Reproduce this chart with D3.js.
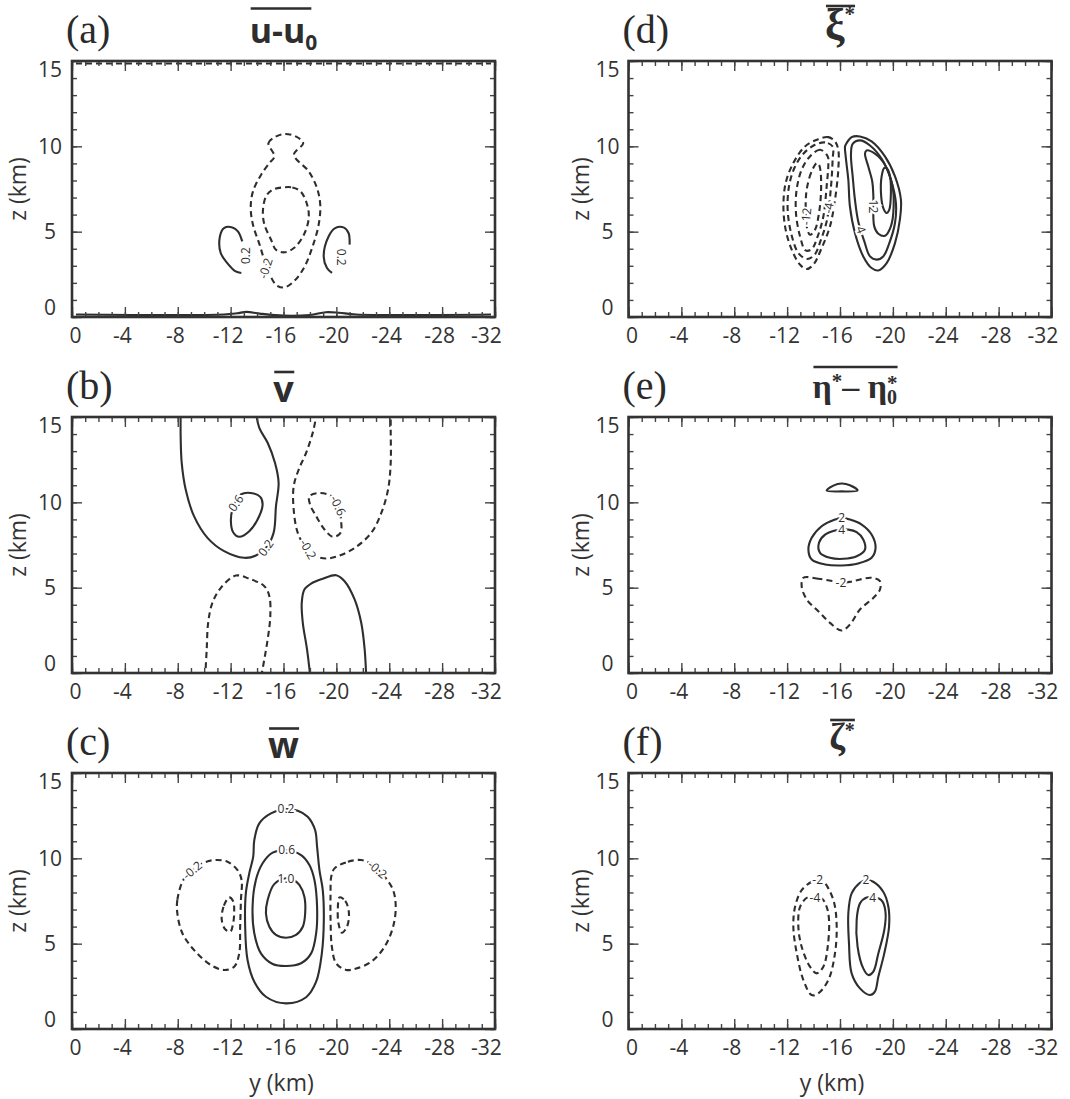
<!DOCTYPE html>
<html>
<head>
<meta charset="utf-8">
<script src="https://cdn.jsdelivr.net/npm/d3@7"></script>
<style>
  body { margin: 0; background: #fff; }
  svg { display: block; }
</style>
</head>
<body>
<div id="chart"></div>
<script>
// axis ticks
const yTicks = [0, -4, -8, -12, -16, -20, -24, -28, -32];
const zTicks = [0, 5, 10, 15];
const yMinor = d3.range(0, -33, -1);
const zMinor = d3.range(0, 16, 1);

// (a) u - u0   [y km, z km]
const a_top = [[-0.3, 14.85], [-31.7, 14.85]];
const a_bot = [[-0.3, 0.15], [-11.5, 0.15], [-12.5, 0.22], [-13.2, 0.3], [-14.2, 0.2], [-16, 0.08], [-18, 0.12], [-19.2, 0.28], [-20.2, 0.25], [-21.5, 0.15], [-31.7, 0.15]];
const a_neg02 = [[-15.31, 9.41], [-14.86, 10.19], [-15.31, 10.52], [-16.05, 10.72], [-16.92, 10.58], [-17.49, 10.19], [-16.79, 9.51], [-17.91, 8.53], [-18.53, 7.56], [-18.78, 6.58], [-18.66, 5.41], [-18.16, 4.04], [-17.54, 2.87], [-16.79, 2.09], [-16.05, 1.73], [-15.43, 1.89], [-14.68, 3.06], [-14.19, 4.24], [-13.69, 5.41], [-13.52, 6.39], [-13.69, 7.36], [-14.31, 8.34], [-14.93, 9.02]];
const a_neg04 = [[-15.93, 7.59], [-16.67, 7.59], [-17.29, 7.36], [-17.79, 6.58], [-17.91, 5.80], [-17.54, 4.82], [-16.79, 4.04], [-16.05, 3.79], [-15.43, 3.94], [-15.06, 4.53], [-14.56, 5.41], [-14.44, 6.19], [-14.68, 7.07], [-15.18, 7.46]];
const a_posL = [[-12.88, 4.43], [-12.55, 5.02], [-12.13, 5.25], [-11.50, 5.21], [-11.19, 4.72], [-11.25, 3.75], [-11.75, 3.16], [-12.38, 2.67], [-12.81, 2.58]];
const a_posR = [[-21.0, 4.24], [-20.92, 4.92], [-20.54, 5.25], [-19.91, 5.21], [-19.41, 4.72], [-19.04, 3.55], [-19.29, 2.87], [-19.67, 2.58]];
const a_labels = [["0.2", -13.15, 3.6, -90], ["-0.2", -14.65, 2.85, -72], ["0.2", -20.4, 3.5, 90]];

// (b) v
const b_pos02 = [[-8.22, 15.3], [-8.22, 13.87], [-8.30, 12.31], [-8.60, 10.75], [-9.23, 9.19], [-10.25, 7.92], [-11.51, 7.14], [-13.03, 6.75], [-13.91, 6.88], [-14.67, 7.33], [-15.25, 8.21], [-15.43, 9.77], [-15.63, 11.14], [-15.36, 12.31], [-14.80, 13.49], [-14.17, 14.36], [-13.91, 15.3]];
const b_pos06 = [[-12.02, 8.89], [-12.15, 9.6], [-12.78, 10.46], [-13.53, 10.55], [-14.24, 10.32], [-14.42, 9.87], [-14.04, 8.99], [-13.41, 8.31], [-12.65, 7.98], [-12.19, 8.25]];
const b_neg02 = [[-18.54, 15.3], [-18.21, 14.07], [-17.71, 12.90], [-17.15, 11.92], [-16.77, 10.94], [-16.77, 9.58], [-17.08, 8.21], [-17.71, 7.33], [-18.47, 6.84], [-19.23, 6.71], [-20.11, 6.84], [-21.38, 7.33], [-22.64, 8.21], [-23.40, 9.38], [-23.91, 10.75], [-24.11, 12.31], [-24.11, 14.17], [-24.11, 15.3]];
const b_neg06 = [[-17.96, 10.36], [-18.80, 10.55], [-19.61, 10.36], [-20.11, 9.81], [-20.36, 8.90], [-20.30, 8.2], [-19.73, 7.98], [-19.10, 8.41], [-18.47, 9.19], [-18.01, 9.87]];
const b_negLow = [[-10.07, -0.3], [-10.19, 1.38], [-10.30, 2.94], [-10.62, 4.11], [-11.26, 4.99], [-12.40, 5.71], [-13.41, 5.52], [-14.55, 5.09], [-14.93, 4.50], [-15.00, 3.33], [-14.80, 1.96], [-14.29, -0.3]];
const b_posLow = [[-18.04, -0.3], [-17.78, 1.38], [-17.46, 2.94], [-17.38, 4.11], [-17.58, 4.89], [-18.09, 5.24], [-18.97, 5.52], [-19.98, 5.73], [-20.62, 5.38], [-21.38, 4.31], [-21.88, 2.94], [-22.14, 1.38], [-22.26, -0.3]];
const b_labels = [["0.6", -12.4, 9.95, -55], ["0.2", -14.67, 7.33, -55], ["-0.2", -17.85, 7.25, 60], ["-0.6", -20.11, 9.81, 65]];

// (c) w
const c_pos02 = [[-16.19, 12.89], [-15.05, 12.63], [-14.17, 12.05], [-13.79, 11.07], [-13.71, 10.10], [-13.41, 9.12], [-13.15, 7.95], [-13.10, 5.99], [-13.28, 4.04], [-13.79, 2.77], [-14.67, 1.89], [-16.19, 1.50], [-17.71, 1.86], [-18.47, 2.77], [-18.90, 4.43], [-19.05, 6.39], [-18.97, 8.14], [-18.72, 9.31], [-18.54, 10.68], [-18.39, 11.66], [-17.83, 12.44], [-17.08, 12.79]];
const c_pos06 = [[-16.24, 10.49], [-15.18, 10.33], [-14.42, 9.71], [-13.91, 8.73], [-13.66, 7.16], [-13.79, 5.61], [-14.29, 4.43], [-15.18, 3.81], [-16.19, 3.69], [-17.33, 3.85], [-18.09, 4.43], [-18.47, 5.61], [-18.54, 7.16], [-18.34, 8.73], [-17.96, 9.61], [-17.33, 10.19]];
const c_pos10 = [[-16.19, 8.83], [-15.30, 8.49], [-14.80, 7.56], [-14.67, 6.78], [-14.93, 5.99], [-15.43, 5.51], [-16.19, 5.35], [-16.95, 5.51], [-17.46, 5.99], [-17.64, 6.78], [-17.58, 7.75], [-17.20, 8.44], [-16.77, 8.73]];
const c_neg02L = [[-8.42, 8.73], [-7.97, 7.56], [-7.97, 6.78], [-8.35, 5.61], [-9.23, 4.63], [-10.50, 3.75], [-11.51, 3.46], [-12.27, 3.65], [-12.65, 4.43], [-12.72, 5.99], [-12.78, 7.56], [-12.83, 8.73], [-12.52, 9.31], [-11.76, 9.80], [-10.75, 9.90], [-9.87, 9.71], [-9.03, 9.27]];
const c_neg06L = [[-11.89, 7.71], [-11.46, 7.16], [-11.33, 6.39], [-11.59, 5.84], [-11.97, 5.70], [-12.19, 6.19], [-12.27, 6.97], [-12.19, 7.49]];
const c_neg02R = [[-19.86, 9.41], [-20.87, 9.80], [-21.88, 9.90], [-22.64, 9.67], [-23.65, 8.92], [-24.29, 8.14], [-24.49, 7.16], [-24.29, 5.99], [-23.65, 4.82], [-22.64, 3.94], [-21.50, 3.55], [-20.74, 3.46], [-19.98, 3.85], [-19.66, 4.82], [-19.56, 6.39], [-19.56, 7.95], [-19.61, 8.92]];
const c_neg06R = [[-20.24, 7.71], [-20.67, 7.51], [-20.95, 6.78], [-20.80, 5.99], [-20.42, 5.64], [-20.16, 6.19], [-20.11, 7.07]];
const c_labels = [["0.2", -16.19, 12.89, 0], ["0.6", -16.24, 10.49, 0], ["1.0", -16.19, 8.83, 0], ["-0.2", -9.1, 9.3, -40], ["-0.2", -23.1, 9.35, 40]];

// (d) xi*
const d_p1 = [[-16.50, 10.19], [-16.88, 10.54], [-17.51, 10.58], [-18.39, 10.29], [-19.40, 9.41], [-20.16, 8.24], [-20.61, 6.87], [-20.53, 5.70], [-20.16, 4.33], [-19.53, 3.16], [-18.90, 2.73], [-18.39, 2.87], [-17.76, 3.55], [-17.13, 4.92], [-16.75, 6.48], [-16.63, 8.04], [-16.43, 9.41], [-16.38, 9.99]];
const d_p2 = [[-17.38, 5.60], [-17.13, 6.87], [-16.96, 8.24], [-16.83, 9.51], [-16.96, 10.15], [-17.51, 10.35], [-18.27, 10.05], [-19.20, 9.21], [-19.85, 8.04], [-20.23, 6.68], [-20.16, 5.51], [-19.73, 4.33], [-19.27, 3.55], [-18.77, 3.36], [-18.27, 3.55], [-17.84, 4.43]];
const d_p3 = [[-18.59, 5.31], [-18.90, 4.88], [-19.40, 4.76], [-19.85, 5.31], [-20.06, 6.48], [-19.95, 7.75], [-19.40, 8.92], [-18.64, 9.57], [-18.01, 9.76], [-17.89, 9.57], [-18.14, 8.82], [-18.44, 7.94], [-18.52, 7.16]];
const d_p4 = [[-19.35, 8.73], [-19.15, 8.24], [-19.10, 7.26], [-19.27, 6.39], [-19.53, 6.09], [-19.73, 6.29], [-19.85, 7.26], [-19.78, 8.24], [-19.58, 8.67]];
const d_n1 = [[-15.62, 10.29], [-15.12, 10.54], [-14.36, 10.42], [-13.35, 9.99], [-12.47, 9.02], [-11.89, 7.85], [-11.72, 6.48], [-11.89, 5.11], [-12.35, 3.94], [-12.98, 3.06], [-13.48, 2.81], [-13.98, 3.06], [-14.61, 4.04], [-15.24, 5.31], [-15.62, 6.87], [-15.87, 8.63], [-15.87, 9.80]];
const d_n2 = [[-15.44, 9.99], [-14.87, 10.23], [-14.11, 10.09], [-13.23, 9.57], [-12.55, 8.73], [-12.14, 7.65], [-12.04, 6.29], [-12.30, 4.92], [-12.85, 3.75], [-13.48, 3.40], [-14.06, 3.63], [-14.56, 4.53], [-15.02, 5.70], [-15.32, 7.65], [-15.44, 9.21]];
const d_n3 = [[-15.07, 9.41], [-14.49, 9.80], [-13.73, 9.41], [-13.10, 8.63], [-12.72, 7.46], [-12.67, 6.09], [-12.98, 4.72], [-13.40, 3.90], [-13.86, 3.98], [-14.31, 4.72], [-14.74, 5.89], [-14.99, 7.65], [-15.12, 9.02]];
const d_n4 = [[-14.24, 9.02], [-13.81, 8.44], [-13.48, 7.46], [-13.40, 6.48], [-13.48, 5.31], [-13.73, 4.82], [-14.11, 5.11], [-14.41, 6.09], [-14.56, 7.26], [-14.54, 8.44], [-14.41, 8.92]];
const d_labels = [["4", -17.57, 5.11, 70], ["12", -18.5, 6.48, 90], ["-12", -13.45, 5.89, -85], ["-4", -15.13, 6.39, -80]];

// (e) eta* - eta0*
const e_cap = [[-14.99, 10.69], [-15.50, 10.98], [-16.12, 11.10], [-16.75, 11.00], [-17.33, 10.69], [-16.12, 10.64]];
const e_p2 = [[-16.12, 9.09], [-15.62, 8.99], [-14.61, 8.60], [-13.86, 7.92], [-13.61, 7.23], [-13.86, 6.65], [-14.87, 6.36], [-16.12, 6.30], [-17.38, 6.42], [-18.39, 6.75], [-18.69, 7.33], [-18.39, 8.11], [-17.64, 8.70], [-16.75, 8.99]];
const e_p4 = [[-16.12, 8.40], [-15.62, 8.35], [-14.87, 8.11], [-14.41, 7.63], [-14.49, 7.04], [-15.24, 6.75], [-16.25, 6.69], [-17.26, 6.84], [-17.89, 7.23], [-17.76, 7.82], [-17.26, 8.25], [-16.63, 8.40]];
const e_n2 = [[-15.50, 5.38], [-14.36, 5.52], [-13.23, 5.58], [-13.10, 5.09], [-13.48, 4.31], [-14.36, 3.62], [-15.24, 2.94], [-16.12, 2.49], [-16.75, 2.84], [-17.51, 3.72], [-18.52, 4.40], [-19.02, 4.89], [-19.02, 5.38], [-18.39, 5.58], [-17.51, 5.48], [-16.75, 5.34], [-16.07, 5.29]];
const e_labels = [["2", -16.12, 9.09, 0], ["4", -16.12, 8.40, 0], ["-2", -16.07, 5.29, 0]];

// (f) zeta*
const f_n2 = [[-14.31, 8.73], [-13.86, 8.63], [-13.10, 8.14], [-12.60, 7.16], [-12.47, 5.99], [-12.73, 4.43], [-13.23, 2.87], [-13.86, 1.99], [-14.36, 2.09], [-15.12, 2.87], [-15.62, 4.43], [-15.75, 5.99], [-15.57, 7.36], [-15.12, 8.24], [-14.74, 8.63]];
const f_n4 = [[-14.10, 7.69], [-13.55, 7.71], [-12.98, 7.16], [-12.85, 5.99], [-13.10, 4.82], [-13.73, 3.65], [-14.24, 3.26], [-14.74, 3.65], [-15.07, 4.82], [-15.17, 6.39], [-14.99, 7.16], [-14.61, 7.66]];
const f_p2 = [[-17.96, 8.73], [-17.51, 8.57], [-16.88, 7.95], [-16.63, 6.78], [-16.68, 5.02], [-16.88, 3.26], [-17.51, 2.38], [-18.27, 1.99], [-18.64, 2.19], [-18.90, 3.06], [-19.35, 4.43], [-19.71, 5.99], [-19.66, 7.16], [-19.27, 8.04], [-18.52, 8.63]];
const f_p4 = [[-18.47, 7.69], [-18.01, 7.71], [-17.51, 7.36], [-17.26, 6.39], [-17.33, 4.82], [-17.76, 3.55], [-18.14, 3.16], [-18.52, 3.36], [-18.90, 4.43], [-19.35, 5.80], [-19.45, 6.78], [-19.22, 7.46], [-18.90, 7.66]];
const f_labels = [["-2", -14.31, 8.73, 0], ["-4", -14.10, 7.69, 0], ["2", -17.96, 8.73, 0], ["4", -18.47, 7.69, 0]];

const ink = "#2e2e2e";
const sans = "'Open Sans', 'Noto Sans', sans-serif";
const serif = "'Liberation Serif', 'DejaVu Serif', serif";

const W = 423, H = 256;
const cols = [72, 628.5];
const rows = [61, 417, 773];

const S = (pts) => ({ pts, dash: false });
const D = (pts) => ({ pts, dash: true });
const open = (o) => Object.assign(o, { open: true });
const straight = (o) => Object.assign(o, { straight: true });

const panels = [
  { id: "a", col: 0, row: 0,
    lines: [straight(open(D(a_top))), open(S(a_bot)), D(a_neg02), D(a_neg04), open(S(a_posL)), open(S(a_posR))],
    labels: a_labels,
    title: { base: 43, ol: 8.5, trimR: 6, parts: [["u-u", { size: 34, weight: 700, font: sans }], ["0", { size: 21, weight: 700, font: sans, dy: 7 }]] } },
  { id: "b", col: 0, row: 1,
    lines: [open(S(b_pos02)), S(b_pos06), open(D(b_neg02)), D(b_neg06), open(D(b_negLow)), open(S(b_posLow))],
    labels: b_labels,
    title: { base: 402, ol: 372, parts: [["v", { size: 36, weight: 700, font: sans }]] } },
  { id: "c", col: 0, row: 2,
    lines: [S(c_pos02), S(c_pos06), S(c_pos10), D(c_neg02L), D(c_neg06L), D(c_neg02R), D(c_neg06R)],
    labels: c_labels,
    title: { base: 758, ol: 728.5, parts: [["w", { size: 36, weight: 700, font: sans }]] } },
  { id: "d", col: 1, row: 0,
    lines: [S(d_p1), S(d_p2), S(d_p3), S(d_p4), D(d_n1), D(d_n2), D(d_n3), D(d_n4)],
    labels: d_labels,
    title: { base: 39, ol: 6, parts: [["ξ", { size: 44, weight: 700, font: serif }], ["*", { size: 21, weight: 700, font: serif, dy: -18 }]] } },
  { id: "e", col: 1, row: 1, dx: 15,
    lines: [S(e_cap), S(e_p2), S(e_p4), D(e_n2)],
    labels: e_labels,
    title: { base: 398, ol: 367, parts: [["η", { size: 34, weight: 700, font: serif }], ["*", { size: 21, weight: 700, font: serif, dy: -10 }], ["\u2013 ", { size: 34, weight: 700, font: serif, dy: 10 }], ["η", { size: 34, weight: 700, font: serif }], ["0", { size: 20, weight: 700, font: serif, dy: 6 }], ["*", { size: 21, weight: 700, font: serif, dy: -14, dx: -10 }]] } },
  { id: "f", col: 1, row: 2, dx: 2,
    lines: [D(f_n2), D(f_n4), S(f_p2), S(f_p4)],
    labels: f_labels,
    title: { base: 749, ol: 720, parts: [["ζ", { size: 38, weight: 700, font: serif }], ["*", { size: 20, weight: 700, font: serif, dy: -12 }]] } }
];

const svg = d3.select("#chart").append("svg")
  .attr("width", 1070).attr("height", 1099);

const x = d3.scaleLinear().domain([0, -32]).range([0, W]);
const z = d3.scaleLinear().domain([0, 15]).range([H, 0]);

const line = d3.line().x(d => x(d[0])).y(d => z(d[1]));

panels.forEach(p => {
  const ox = cols[p.col], oy = rows[p.row];
  const g = svg.append("g").attr("transform", "translate(" + ox + "," + oy + ")");

  g.append("clipPath").attr("id", "clip" + p.id)
    .append("rect").attr("width", W).attr("height", H);
  const plot = g.append("g").attr("clip-path", "url(#clip" + p.id + ")");

  p.lines.forEach(l => {
    if (l.straight) line.curve(d3.curveLinear);
    else if (l.open) line.curve(d3.curveCatmullRom.alpha(0.5));
    else line.curve(d3.curveCatmullRomClosed.alpha(0.5));
    plot.append("path")
      .attr("d", line(l.pts))
      .attr("fill", "none")
      .attr("stroke", ink)
      .attr("stroke-width", 2.1)
      .attr("stroke-linejoin", "round")
      .attr("stroke-dasharray", l.dash ? "6,4" : null);
  });

  plot.selectAll("text.clabel")
    .data(p.labels)
    .enter().append("text")
    .attr("class", "clabel")
    .attr("transform", d => "translate(" + x(d[1]) + "," + z(d[2]) + ") rotate(" + d[3] + ")")
    .attr("text-anchor", "middle")
    .attr("dy", "0.35em")
    .attr("font-family", sans)
    .attr("font-size", 12)
    .attr("fill", ink)
    .attr("stroke", "#fff")
    .attr("stroke-width", 4)
    .attr("paint-order", "stroke")
    .text(d => d[0]);

  // inward ticks on all four sides
  const blank = (axis, vals, len) => axis.tickValues(vals).tickSize(-len).tickFormat("");
  g.append("g").attr("transform", "translate(0," + H + ")").call(blank(d3.axisBottom(x), yMinor, 5));
  const bx = g.append("g").attr("transform", "translate(0," + H + ")")
    .call(d3.axisBottom(x).tickValues(yTicks).tickSize(-10).tickPadding(11).tickFormat(d => String(d)));
  g.append("g").call(blank(d3.axisTop(x), yMinor, 5));
  g.append("g").call(blank(d3.axisTop(x), yTicks, 10));
  g.append("g").call(blank(d3.axisLeft(z), zMinor, 5));
  const lz = g.append("g").call(d3.axisLeft(z).tickValues(zTicks).tickSize(-10).tickFormat(d => String(d)));
  g.append("g").attr("transform", "translate(" + W + ",0)").call(blank(d3.axisRight(z), zMinor, 5));
  g.append("g").attr("transform", "translate(" + W + ",0)").call(blank(d3.axisRight(z), zTicks, 10));

  bx.selectAll("text")
    .attr("dx", d => d === 0 ? 3 : d === -32 ? -9 : -3);
  lz.selectAll("text")
    .attr("text-anchor", "middle")
    .attr("x", p.col === 0 ? -22 : -21)
    .attr("y", d => d === 15 ? 9 : d === 0 ? -9 : 0);

  g.selectAll(".domain").remove();
  g.selectAll(".tick line").attr("stroke", "#444").attr("stroke-width", 1.4);
  g.selectAll(".tick text")
    .attr("font-family", sans).attr("font-size", 21).attr("fill", "#333");

  g.append("rect")
    .attr("width", W).attr("height", H)
    .attr("fill", "none").attr("stroke", "#333").attr("stroke-width", 2.6);

  // panel letter
  svg.append("text")
    .attr("x", ox - 6).attr("y", oy - 18)
    .attr("font-family", serif).attr("font-size", 40).attr("fill", "#2a2a2a")
    .text("(" + p.id + ")");

  // z label
  svg.append("text")
    .attr("transform", "translate(" + (p.col === 0 ? 26 : 588.5) + "," + (oy + H / 2) + ") rotate(-90)")
    .attr("text-anchor", "middle")
    .attr("font-family", sans).attr("font-size", 23).attr("fill", "#333")
    .text("z (km)");

  if (p.row === 2) {
    svg.append("text")
      .attr("x", ox + W / 2 + (p.col === 0 ? -2 : -8)).attr("y", 1091)
      .attr("text-anchor", "middle")
      .attr("font-family", sans).attr("font-size", 23).attr("fill", "#333")
      .text("y (km)");
  }

  // overlined title
  const t = p.title;
  const tt = svg.append("text")
    .attr("x", ox + W / 2 + (p.dx || 0)).attr("y", t.base)
    .attr("text-anchor", "middle").attr("fill", "#2e2e2e");
  t.parts.forEach(part => {
    const o = part[1];
    tt.append("tspan")
      .attr("font-family", o.font).attr("font-size", o.size).attr("font-weight", o.weight)
      .attr("dy", o.dy || 0).attr("dx", o.dx || 0)
      .text(part[0]);
  });
  const bb = tt.node().getBBox();
  svg.append("line")
    .attr("x1", bb.x + 1).attr("x2", bb.x + bb.width - (t.trimR || 0))
    .attr("y1", t.ol).attr("y2", t.ol)
    .attr("stroke", "#2e2e2e").attr("stroke-width", 2.6);
});
</script>
</body>
</html>
